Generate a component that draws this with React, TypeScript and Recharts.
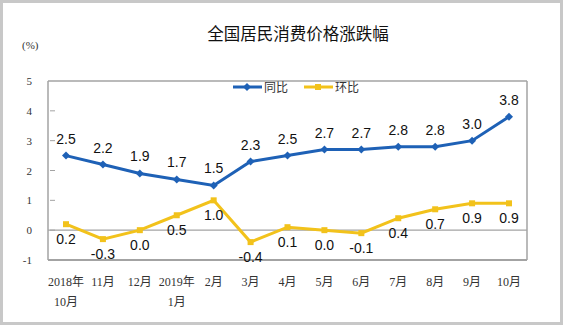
import { LineChart, Line, XAxis, YAxis, ReferenceLine, LabelList, Legend } from "recharts";

const months = ["2018年|10月", "11月", "12月", "2019年|1月", "2月", "3月", "4月", "5月", "6月", "7月", "8月", "9月", "10月"];
const yoy = [2.5, 2.2, 1.9, 1.7, 1.5, 2.3, 2.5, 2.7, 2.7, 2.8, 2.8, 3.0, 3.8];
const mom = [0.2, -0.3, 0.0, 0.5, 1.0, -0.4, 0.1, 0.0, -0.1, 0.4, 0.7, 0.9, 0.9];
const yTicks = [-1, 0, 1, 2, 3, 4, 5];

const BLUE = "#1e61b6";
const YELLOW = "#f2c21b";
const GREY = "#a3a3a3";
const serif = "'Liberation Serif', 'Noto Sans CJK SC', serif";
const sans = "'Liberation Sans', Arial, sans-serif";

const data = months.map((m, i) => ({ month: m, yoy: yoy[i], mom: mom[i] }));

function MonthTick({ x, y, payload }: any) {
  const lines = String(payload.value).split("|");
  return (
    <text x={x} y={y} textAnchor="middle" fontSize={12} fill="#333" fontFamily={serif}>
      {lines.map((l, i) => (
        <tspan key={i} x={x} dy={i === 0 ? 18 : 20}>
          {l}
        </tspan>
      ))}
    </text>
  );
}

// label plus a short inward tick mark on the plot edge
function ValueTick({ x, y, payload }: any) {
  const edge = x + 22;
  return (
    <g>
      <text x={x + 4} y={y} dy={4} textAnchor="end" fontSize={11} fill="#333" fontFamily={serif}>
        {payload.value}
      </text>
      {payload.value > -1 && payload.value < 5 && (
        <line x1={edge} y1={y} x2={edge + 5} y2={y} stroke={GREY} strokeWidth={1} />
      )}
    </g>
  );
}

function Diamond({ cx, cy }: any) {
  if (cx == null || cy == null) return null;
  return <path d={`M${cx},${cy - 4}L${cx + 4},${cy}L${cx},${cy + 4}L${cx - 4},${cy}Z`} fill={BLUE} />;
}

function Square({ cx, cy }: any) {
  if (cx == null || cy == null) return null;
  return <rect x={cx - 3} y={cy - 3} width={6} height={6} fill={YELLOW} />;
}

function LegendBox() {
  const item = (color: string, label: string, square: boolean) => (
    <span style={{ display: "inline-flex", alignItems: "center", marginRight: 16 }}>
      <svg width={29} height={10}>
        <line x1={0} y1={5} x2={29} y2={5} stroke={color} strokeWidth={3} />
        {square ? (
          <rect x={11} y={2} width={6} height={6} fill={color} />
        ) : (
          <path d="M14,1L18,5L14,9L10,5Z" fill={color} />
        )}
      </svg>
      <span style={{ marginLeft: 2 }}>{label}</span>
    </span>
  );
  return (
    <div style={{ fontFamily: "'Noto Sans CJK SC', sans-serif", fontSize: 12, color: "#333", display: "flex" }}>
      {item(BLUE, "同比", false)}
      {item(YELLOW, "环比", true)}
    </div>
  );
}

export default function App() {
  return (
    <div
      style={{
        position: "absolute",
        left: 0,
        top: 0,
        width: 563,
        height: 325,
        boxSizing: "border-box",
        border: "3px solid #c8c8c8",
        background: "#fff",
      }}
    >
      <div
        style={{
          position: "absolute",
          left: 0,
          width: 590,
          top: 18,
          textAlign: "center",
          fontFamily: "'Noto Sans CJK SC', sans-serif",
          fontSize: 16.5,
          color: "#111",
        }}
      >
        全国居民消费价格涨跌幅
      </div>
      <div style={{ position: "absolute", left: 19, top: 36, fontFamily: serif, fontSize: 11, color: "#333" }}>
        (%)
      </div>
      <div style={{ position: "absolute", left: -3, top: -3 }}>
        <LineChart width={563} height={325} data={data} margin={{ top: 63, right: 35, bottom: 25, left: 0 }}>
          <XAxis
            dataKey="month"
            axisLine={{ stroke: GREY, strokeWidth: 2 }}
            tickLine={false}
            tick={<MonthTick />}
            interval={0}
            height={40}
            padding={{ left: 18, right: 18 }}
          />
          <XAxis
            xAxisId="top"
            orientation="top"
            dataKey="month"
            axisLine={{ stroke: GREY, strokeWidth: 1.5 }}
            tick={false}
            tickLine={false}
            height={1}
          />
          <YAxis
            domain={[-1, 5]}
            ticks={yTicks}
            axisLine={{ stroke: GREY, strokeWidth: 1.5 }}
            tickLine={false}
            tick={<ValueTick />}
            tickMargin={14}
            width={48}
          />
          <YAxis
            yAxisId="right"
            orientation="right"
            domain={[-1, 5]}
            axisLine={{ stroke: GREY, strokeWidth: 1.5 }}
            tick={false}
            tickLine={false}
            width={1}
          />
          <ReferenceLine y={0} stroke={GREY} strokeWidth={1.2} />
          <Legend verticalAlign="top" content={<LegendBox />} wrapperStyle={{ top: 78, left: 233, width: "auto" }} />
          <Line dataKey="yoy" name="同比" stroke={BLUE} strokeWidth={3} dot={<Diamond />} isAnimationActive={false}>
            <LabelList
              dataKey="yoy"
              position="top"
              offset={12}
              fontSize={14}
              fill="#111"
              fontFamily={sans}
              formatter={(v: any) => Number(v).toFixed(1)}
            />
          </Line>
          <Line dataKey="mom" name="环比" stroke={YELLOW} strokeWidth={3} dot={<Square />} isAnimationActive={false}>
            <LabelList
              dataKey="mom"
              position="bottom"
              offset={10}
              fontSize={14}
              fill="#111"
              fontFamily={sans}
              formatter={(v: any) => Number(v).toFixed(1)}
            />
          </Line>
        </LineChart>
      </div>
    </div>
  );
}
